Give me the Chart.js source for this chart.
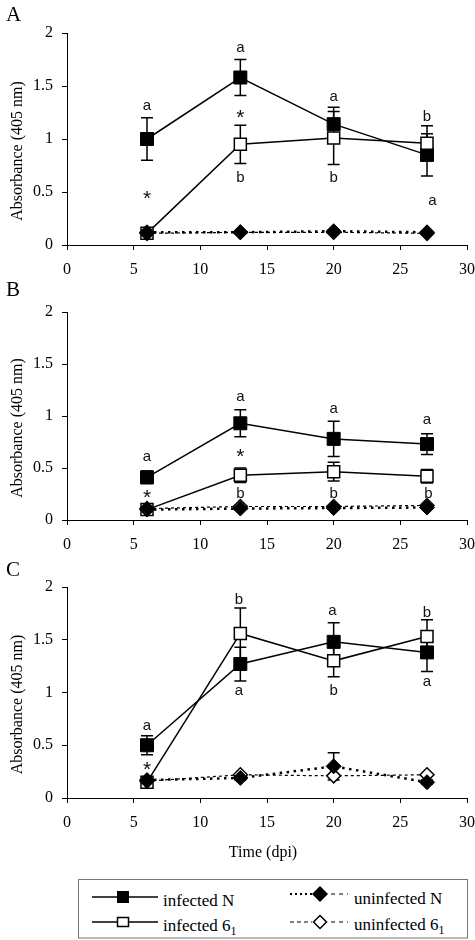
<!DOCTYPE html>
<html><head><meta charset="utf-8">
<script src="https://cdn.jsdelivr.net/npm/chart.js@4.4.0/dist/chart.umd.min.js"></script>
<style>
html,body{margin:0;padding:0;background:#fff;}
#wrap{position:relative;width:475px;height:940px;overflow:hidden;font-family:'Liberation Serif','Times New Roman',serif;color:#000;}
canvas{position:absolute;left:0;}
.plab{position:absolute;left:6px;font-size:21px;line-height:21px;}
#leg{position:absolute;left:0;top:878px;}
</style></head>
<body><div id="wrap">
<canvas id="cA" width="485" height="290" style="top:0px"></canvas>
<canvas id="cB" width="485" height="275" style="top:290px"></canvas>
<canvas id="cC" width="485" height="310" style="top:565px"></canvas>
<div class="plab" style="top:4px">A</div>
<div class="plab" style="top:279px">B</div>
<div class="plab" style="top:559px">C</div>
<svg id="leg" width="475" height="62" xmlns="http://www.w3.org/2000/svg" font-family="'Liberation Serif','Times New Roman',serif" font-size="17">
  <rect x="78.5" y="1.5" width="389" height="58.5" fill="#fff" stroke="#777" stroke-width="1"/>
  <line x1="92" y1="19" x2="158" y2="19" stroke="#000" stroke-width="1.5"/>
  <rect x="117" y="13" width="12" height="12" fill="#000"/>
  <text x="163" y="28">infected N</text>
  <line x1="92" y1="44" x2="158" y2="44" stroke="#000" stroke-width="1.5"/>
  <rect x="117.5" y="39.5" width="11" height="9" fill="#fff" stroke="#000" stroke-width="1.5"/>
  <text x="163" y="53">infected 6<tspan font-size="12" dy="4">1</tspan></text>
  <line x1="290" y1="16" x2="312" y2="16" stroke="#000" stroke-width="2" stroke-dasharray="2,3"/>
  <path d="M320 8 L328 16 L320 24 L312 16 Z" fill="#000"/>
  <line x1="331" y1="16" x2="348" y2="16" stroke="#000" stroke-width="1" stroke-dasharray="4,4"/>
  <text x="354" y="26">uninfected N</text>
  <line x1="290" y1="44" x2="312" y2="44" stroke="#000" stroke-width="1" stroke-dasharray="4,3"/>
  <path d="M320 37.5 L326.5 44 L320 50.5 L313.5 44 Z" fill="#fff" stroke="#000" stroke-width="1.5"/>
  <line x1="331" y1="44" x2="348" y2="44" stroke="#000" stroke-width="1" stroke-dasharray="4,4"/>
  <text x="354" y="52">uninfected 6<tspan font-size="12" dy="4">1</tspan></text>
</svg>
</div>
<script>
// ---- data ----
const days = [6, 13, 20, 27];
const yTickLabels = ['0', '0.5', '1', '1.5', '2'];
const xTickLabels = ['0', '5', '10', '15', '20', '25', '30'];

// Panel A
const infN_A   = [1.00, 1.58, 1.14, 0.85];
const errInfN_A= [0.20, 0.17, 0.16, 0.20];
const inf61_A  = [0.11, 0.95, 1.01, 0.96];
const errInf61_A=[0.02, 0.18, 0.25, 0.165];
const unN_A    = [0.12, 0.12, 0.13, 0.12];
const errUnN_A = [0.01, 0.01, 0.01, 0.01];
const un61_A   = [0.11, 0.12, 0.12, 0.11];
const errUn61_A= [0.01, 0.01, 0.01, 0.01];
const annX_A = [6, 6, 13, 13, 13, 20, 20, 27, 27.4];
const annY_A = [1.31, 0.47, 1.86, 1.24, 0.645, 1.395, 0.645, 1.22, 0.415];
const annT_A = ['a', '*', 'a', '*', 'b', 'a', 'b', 'b', 'a'];

// Panel B
const infN_B   = [0.41, 0.93, 0.78, 0.73];
const errInfN_B= [0.06, 0.13, 0.17, 0.10];
const inf61_B  = [0.10, 0.43, 0.465, 0.42];
const errInf61_B=[0.03, 0.07, 0.09, 0.065];
const unN_B    = [0.10, 0.11, 0.115, 0.12];
const errUnN_B = [0.01, 0.01, 0.01, 0.01];
const un61_B   = [0.11, 0.13, 0.13, 0.14];
const errUn61_B= [0.01, 0.01, 0.01, 0.01];
const annX_B = [6, 6, 13, 13, 13, 20, 20, 27, 27.1];
const annY_B = [0.61, 0.25, 1.18, 0.64, 0.26, 1.07, 0.26, 0.96, 0.26];
const annT_B = ['a', '*', 'a', '*', 'b', 'a', 'b', 'a', 'b'];

// Panel C
const infN_C   = [0.50, 1.27, 1.48, 1.38];
const errInfN_C= [0.09, 0.16, 0.18, 0.18];
const inf61_C  = [0.15, 1.56, 1.30, 1.53];
const errInf61_C=[0.02, 0.24, 0.15, 0.16];
const unN_C    = [0.17, 0.19, 0.30, 0.15];
const errUnN_C = [0.02, 0.02, 0.13, 0.02];
const un61_C   = [0.16, 0.22, 0.21, 0.22];
const errUn61_C= [0.01, 0.01, 0.01, 0.01];
const annX_C = [6, 6, 12.9, 12.9, 19.9, 20, 27, 27];
const annY_C = [0.68, 0.30, 1.89, 1.015, 1.775, 1.03, 1.766, 1.10];
const annT_C = ['a', '*', 'b', 'a', 'a', 'b', 'b', 'a'];

const annotations = {
  cA: {xs: annX_A, ys: annY_A, ts: annT_A},
  cB: {xs: annX_B, ys: annY_B, ts: annT_B},
  cC: {xs: annX_C, ys: annY_C, ts: annT_C}
};

// ---- plugins ----
const errorBars = {
  id: 'errorBars',
  beforeDatasetsDraw(chart) {
    const {ctx, scales: {x, y}} = chart;
    ctx.save();
    ctx.strokeStyle = '#000';
    ctx.lineWidth = 1.5;
    chart.data.datasets.forEach(ds => {
      if (!ds.errors) return;
      ds.data.forEach((p, i) => {
        const e = ds.errors[i];
        if (!e) return;
        const px = x.getPixelForValue(p.x);
        const t = y.getPixelForValue(p.y + e);
        const b = y.getPixelForValue(p.y - e);
        ctx.beginPath();
        ctx.moveTo(px, t); ctx.lineTo(px, b);
        ctx.moveTo(px - 6, t); ctx.lineTo(px + 6, t);
        ctx.moveTo(px - 6, b); ctx.lineTo(px + 6, b);
        ctx.stroke();
      });
    });
    ctx.restore();
  }
};

const letters = {
  id: 'letters',
  afterDatasetsDraw(chart) {
    const a = annotations[chart.canvas.id];
    if (!a) return;
    const {ctx, scales: {x, y}} = chart;
    ctx.save();
    ctx.fillStyle = '#111';
    ctx.textAlign = 'center';
    ctx.textBaseline = 'alphabetic';
    a.ts.forEach((t, i) => {
      ctx.font = (t === '*' ? '21px' : '15px') + " 'Liberation Sans', Arial, sans-serif";
      const m = ctx.measureText(t);
      const px = x.getPixelForValue(a.xs[i]);
      const py = y.getPixelForValue(a.ys[i]);
      ctx.fillText(t, px, py + (m.actualBoundingBoxAscent - m.actualBoundingBoxDescent) / 2);
    });
    ctx.restore();
  }
};

Chart.defaults.font.family = "'Liberation Serif', 'Times New Roman', serif";
Chart.defaults.font.size = 16;
Chart.defaults.color = '#000';

function pts(vals) { return days.map((d, i) => ({x: d, y: vals[i]})); }

function makePanel(id, padTop, xAxisH, showXTitle, s) {
  return new Chart(document.getElementById(id), {
    type: 'line',
    data: {
      datasets: [
        {label: 'uninfected N', data: pts(s.unN), errors: s.errUnN,
         borderColor: '#000', borderWidth: 2.5, borderDash: [2.5, 4.5], borderCapStyle: 'butt',
         pointStyle: 'rectRot', pointRadius: 7.5, pointBackgroundColor: '#000',
         pointBorderColor: '#000', pointBorderWidth: 1},
        {label: 'uninfected 6₁', data: pts(s.un61), errors: s.errUn61,
         borderColor: '#000', borderWidth: 1.2, borderDash: [3, 3],
         pointStyle: 'rectRot', pointRadius: 7, pointBackgroundColor: '#fff',
         pointBorderColor: '#000', pointBorderWidth: 1.5},
        {label: 'infected 6₁', data: pts(s.inf61), errors: s.errInf61,
         borderColor: '#000', borderWidth: 1.5,
         pointStyle: 'rect', pointRadius: 8.5, pointBackgroundColor: '#fff',
         pointBorderColor: '#000', pointBorderWidth: 1.5},
        {label: 'infected N', data: pts(s.infN), errors: s.errInfN,
         borderColor: '#000', borderWidth: 1.5,
         pointStyle: 'rect', pointRadius: 9.2, pointBackgroundColor: '#000',
         pointBorderColor: '#000', pointBorderWidth: 1}
      ]
    },
    options: {
      responsive: false,
      devicePixelRatio: 1,
      animation: false,
      events: [],
      layout: {padding: {left: 0, right: 0, top: padTop, bottom: 0}},
      elements: {line: {tension: 0, fill: false}},
      plugins: {legend: {display: false}, tooltip: {enabled: false}},
      scales: {
        x: {
          type: 'linear', min: 0, max: 30,
          ticks: {stepSize: 5, padding: 10, color: '#000',
                  callback: (v, i) => xTickLabels[i]},
          grid: {drawOnChartArea: false, drawTicks: true, tickLength: 5, color: '#000'},
          border: {display: true, color: '#000', width: 1},
          title: {display: showXTitle, text: 'Time (dpi)  ', color: '#000',
                  padding: {top: 0, bottom: 13}},
          afterFit(sc) { sc.height = xAxisH; }
        },
        y: {
          min: 0, max: 2,
          ticks: {stepSize: 0.5, padding: 9, color: '#000',
                  callback: (v, i) => yTickLabels[i]},
          grid: {drawOnChartArea: false, drawTicks: true, tickLength: 5, color: '#000'},
          border: {display: true, color: '#000', width: 1},
          title: {display: true, text: 'Absorbance (405 nm)      ', color: '#000',
                  padding: {top: 8, bottom: 0}},
          afterFit(sc) { sc.width = 67; }
        }
      }
    },
    plugins: [errorBars, letters]
  });
}

makePanel('cA', 33, 45, false, {infN: infN_A, errInfN: errInfN_A, inf61: inf61_A, errInf61: errInf61_A,
  unN: unN_A, errUnN: errUnN_A, un61: un61_A, errUn61: errUn61_A});
makePanel('cB', 22, 45, false, {infN: infN_B, errInfN: errInfN_B, inf61: inf61_B, errInf61: errInf61_B,
  unN: unN_B, errUnN: errUnN_B, un61: un61_B, errUn61: errUn61_B});
makePanel('cC', 22, 77, true, {infN: infN_C, errInfN: errInfN_C, inf61: inf61_C, errInf61: errInf61_C,
  unN: unN_C, errUnN: errUnN_C, un61: un61_C, errUn61: errUn61_C});
</script>
</body></html>
